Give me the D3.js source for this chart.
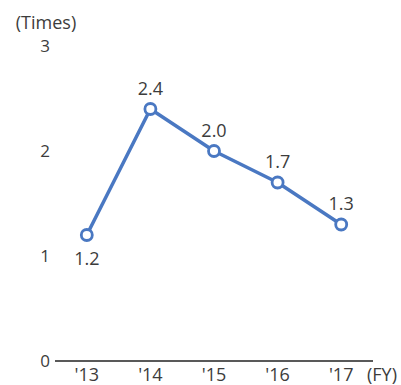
<!DOCTYPE html>
<html>
<head>
<meta charset="utf-8">
<script src="https://cdn.jsdelivr.net/npm/d3@7"></script>
<style>
  html, body { margin: 0; padding: 0; background: #fff; }
  svg text { font-family: "Open Sans", sans-serif; fill: #3c3c3c; }
</style>
</head>
<body>
<svg id="chart" width="401" height="385"></svg>
<script>
// Fiscal-year categories and the ratio (times) for each year
const years = ["'13", "'14", "'15", "'16", "'17"];
const values = [1.2, 2.4, 2.0, 1.7, 1.3];
const valueLabels = ["1.2", "2.4", "2.0", "1.7", "1.3"];
const yTicks = [0, 1, 2, 3];

const svg = d3.select("#chart");
const tickSize = 17;
const valueSize = 18;
const lineColor = "#4a78c2";

const x = d3.scalePoint().domain(years).range([55, 373]).padding(0.5);
const y = d3.scaleLinear().domain([0, 3]).range([361, 46]);

// Baseline
svg.append("line")
  .attr("x1", 55).attr("x2", 373)
  .attr("y1", y(0)).attr("y2", y(0))
  .attr("stroke", "#222").attr("stroke-width", 1.3);

// Y tick labels
svg.selectAll("text.ytick").data(yTicks).enter().append("text")
  .attr("class", "ytick")
  .attr("x", 45).attr("y", d => y(d))
  .attr("dy", "0.33em")
  .attr("text-anchor", "middle")
  .style("font-size", tickSize + "px")
  .text(d => d);

// Unit label
svg.append("text")
  .attr("x", 46).attr("y", 29)
  .attr("text-anchor", "middle")
  .style("font-size", valueSize + "px")
  .text("(Times)");

// X labels
svg.selectAll("text.xtick").data(years).enter().append("text")
  .attr("class", "xtick")
  .attr("x", d => x(d)).attr("y", 381)
  .attr("text-anchor", "middle")
  .style("font-size", valueSize + "px")
  .text(d => d);

svg.append("text")
  .attr("x", 382).attr("y", 381)
  .attr("text-anchor", "middle")
  .style("font-size", valueSize + "px")
  .text("(FY)");

// Line
const line = d3.line().x((d, i) => x(years[i])).y(d => y(d));
svg.append("path")
  .datum(values)
  .attr("d", line)
  .attr("fill", "none")
  .attr("stroke", lineColor)
  .attr("stroke-width", 3.5)
  .attr("stroke-linejoin", "round");

// Markers
svg.selectAll("circle.pt").data(values).enter().append("circle")
  .attr("class", "pt")
  .attr("cx", (d, i) => x(years[i]))
  .attr("cy", d => y(d))
  .attr("r", 5.5)
  .attr("fill", "#fff")
  .attr("stroke", lineColor)
  .attr("stroke-width", 2.8);

// Value labels: first below the point, others above
svg.selectAll("text.val").data(values).enter().append("text")
  .attr("class", "val")
  .attr("x", (d, i) => x(years[i]))
  .attr("y", (d, i) => i === 0 ? y(d) + 30 : y(d) - 14.5)
  .attr("text-anchor", "middle")
  .style("font-size", valueSize + "px")
  .text((d, i) => valueLabels[i]);
</script>
</body>
</html>
